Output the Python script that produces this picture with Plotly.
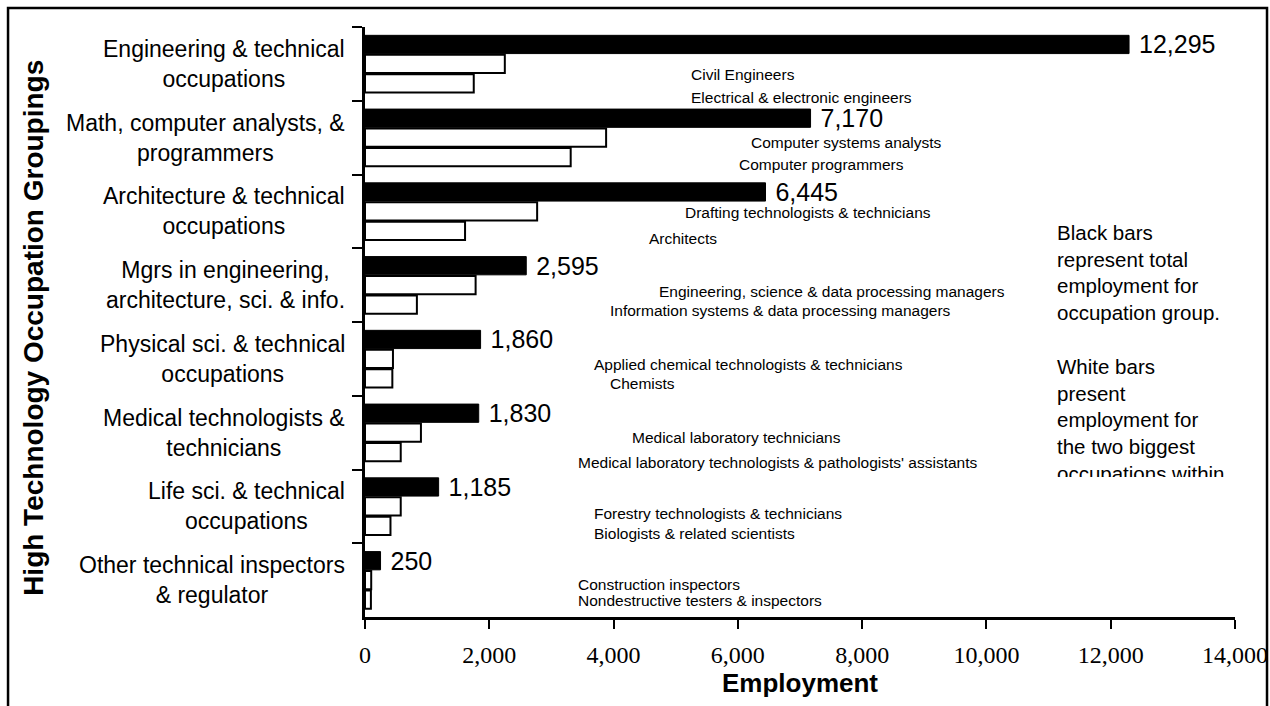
import plotly.graph_objects as go

# ---------------- data ----------------
group_keys = ["Engineering", "Math", "Architecture", "Mgrs", "Physical", "Medical", "Life", "Other"]
group_labels = [
    "Engineering & technical<br>occupations",
    "Math, computer analysts, &<br>programmers",
    "Architecture & technical<br>occupations",
    "Mgrs in engineering,<br>architecture, sci. & info.",
    "Physical sci. & technical<br>occupations",
    "Medical technologists &<br>technicians",
    "Life sci. & technical<br>occupations",
    "Other technical inspectors<br>& regulator",
]
totals = [12295, 7170, 6445, 2595, 1860, 1830, 1185, 250]

occ1_names = [
    "Civil Engineers",
    "Computer systems analysts",
    "Drafting technologists & technicians",
    "Engineering, science & data processing managers",
    "Applied chemical technologists & technicians",
    "Medical laboratory technicians",
    "Forestry technologists & technicians",
    "Construction inspectors",
]
occ1_values = [2250, 3880, 2770, 1780, 450, 900, 575, 100]

occ2_names = [
    "Electrical & electronic engineers",
    "Computer programmers",
    "Architects",
    "Information systems & data processing managers",
    "Chemists",
    "Medical laboratory technologists & pathologists' assistants",
    "Biologists & related scientists",
    "Nondestructive testers & inspectors",
]
occ2_values = [1750, 3310, 1610, 835, 440, 575, 410, 95]

x_ticks = [0, 2000, 4000, 6000, 8000, 10000, 12000, 14000]

# ---------------- label placement (layout only) ----------------
occ1_label_x = [5214, 6179, 5117, 4699, 3653, 4264, 3653, 3395]
occ1_label_dy = [0.15, 0.07, 0.02, 0.09, 0.08, 0.06, 0.09, 0.065]
occ2_label_x = [5214, 5986, 4538, 3910, 3910, 3395, 3653, 3395]
occ2_label_dy = [0.45, 0.37, 0.37, 0.34, 0.33, 0.40, 0.37, 0.275]

SANS = "Liberation Sans, Arial, sans-serif"
SERIF = "Liberation Serif, Times New Roman, serif"

fig = go.Figure()
fig.add_trace(go.Bar(
    y=group_keys, x=totals, orientation="h",
    marker=dict(color="black", line=dict(color="black", width=1)),
    texttemplate=" %{x:,}", textposition="outside",
    textfont=dict(family=SANS, size=25, color="black"),
    constraintext="none", cliponaxis=False, name="Total",
))
fig.add_trace(go.Bar(
    y=group_keys, x=occ1_values, orientation="h",
    marker=dict(color="white", line=dict(color="black", width=2)),
    name="Occupation 1",
))
fig.add_trace(go.Bar(
    y=group_keys, x=occ2_values, orientation="h",
    marker=dict(color="white", line=dict(color="black", width=2)),
    name="Occupation 2",
))

annotations = []
# category labels (centered multi-line)
for i, lab in enumerate(group_labels):
    annotations.append(dict(
        x=0, xref="paper", y=i, yref="y", xanchor="right", yanchor="middle",
        xshift=-18, text=lab, align="center", showarrow=False,
        font=dict(family=SANS, size=23, color="black"),
    ))
# occupation labels
for i in range(len(group_keys)):
    annotations.append(dict(
        x=occ1_label_x[i], y=i + occ1_label_dy[i], xref="x", yref="y",
        xanchor="left", yanchor="middle", text=occ1_names[i], showarrow=False,
        font=dict(family=SANS, size=15.5, color="black"),
    ))
    annotations.append(dict(
        x=occ2_label_x[i], y=i + occ2_label_dy[i], xref="x", yref="y",
        xanchor="left", yanchor="middle", text=occ2_names[i], showarrow=False,
        font=dict(family=SANS, size=15.5, color="black"),
    ))

# explanatory text box
annotations.append(dict(
    x=0.7935, y=0.675, xref="paper", yref="paper", xanchor="left", yanchor="top",
    text="Black bars<br>represent total<br>employment for<br>occupation group.",
    align="left", showarrow=False, font=dict(family=SANS, size=20.5, color="black"),
))
annotations.append(dict(
    x=0.7935, y=0.447, xref="paper", yref="paper", xanchor="left", yanchor="top",
    text="White bars<br>present<br>employment for<br>the two biggest<br>occupations within",
    align="left", showarrow=False, font=dict(family=SANS, size=20.5, color="black"),
))
# clip the bottom of the text box
annotations.append(dict(
    x=0.783, y=0.237, xref="paper", yref="paper", xanchor="left", yanchor="top",
    text=" ", width=210, height=30, bgcolor="white", showarrow=False, borderwidth=0,
    font=dict(size=10),
))
# y-axis title
annotations.append(dict(
    x=-0.3805, y=0.49, xref="paper", yref="paper", xanchor="center", yanchor="middle",
    text="<b>High Technology Occupation Groupings</b>", textangle=-90, showarrow=False,
    font=dict(family=SANS, size=28, color="black"),
))

# outer frame (left, top, right sides; bottom is off-picture in the reference)
fx0, fx1, fy0, fy1 = -0.4103, 1.0368, -0.152, 1.0322
frame_path = f"M {fx0},{fy0} L {fx0},{fy1} L {fx1},{fy1} L {fx1},{fy0}"

fig.update_layout(
    width=1270, height=706,
    margin=dict(l=365, r=35, t=27, b=89, autoexpand=False),
    paper_bgcolor="white", plot_bgcolor="white",
    barmode="group", bargap=0.21, bargroupgap=0.06,
    showlegend=False,
    annotations=annotations,
    shapes=[dict(type="path", xref="paper", yref="paper", path=frame_path,
                 line=dict(color="black", width=2.5))],
)
fig.update_xaxes(
    range=[0, 14000], tickvals=x_ticks, tickformat=",d", automargin=False,
    ticks="outside", ticklen=9, tickwidth=2, tickcolor="black",
    showline=True, linecolor="black", linewidth=2.5,
    showgrid=False, zeroline=False,
    tickfont=dict(family=SERIF, size=24, color="black"),
    ticklabelstandoff=5,
    title=dict(text="<b>Employment</b>", font=dict(family=SANS, size=26, color="black"), standoff=6),
)
fig.update_yaxes(
    type="category", range=[7.5, -0.5], tickson="boundaries", automargin=False,
    ticks="outside", ticklen=10, tickwidth=2, tickcolor="black",
    showline=True, linecolor="black", linewidth=2.5,
    showgrid=False, zeroline=False, showticklabels=False,
)

fig.write_html("out.html")
